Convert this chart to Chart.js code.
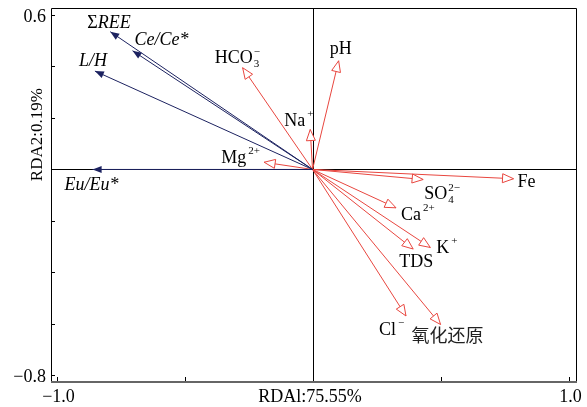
<!DOCTYPE html>
<html lang="zh">
<head>
<meta charset="UTF-8">
<meta name="viewport" content="width=device-width, initial-scale=1.0">
<title>RDA</title>
<script src="https://cdn.jsdelivr.net/npm/chart.js"></script>
<style>
    body, html {
        margin: 0;
        padding: 0;
        background: #fff;
    }
    #chartContainer {
        width: 587px;
        height: 407px;
    }
</style>
</head>
<body>
<div id="chartContainer">
    <canvas id="rdaChart"></canvas>
</div>
<script>
    // REE parameters (blue arrows)
    const speciesNames = ['ΣREE', 'Ce/Ce*', 'L/H', 'Eu/Eu*'];
    const speciesX = [-0.790, -0.703, -0.850, -0.859];
    const speciesY = [0.535, 0.461, 0.382, 0.000];

    // hydrochemical factors (red arrows)
    const envNames = ['HCO3-', 'pH', 'Na+', 'Mg2+', 'Fe', 'SO42-', 'Ca2+', 'K+', 'TDS', 'Cl-', '氧化还原'];
    const envX = [-0.273, 0.102, -0.009, -0.189, 0.785, 0.432, 0.326, 0.460, 0.393, 0.365, 0.500];
    const envY = [0.395, 0.422, 0.155, 0.028, -0.036, -0.039, -0.149, -0.303, -0.309, -0.569, -0.602];

    const xTicks = [-1.0, -0.5, 0, 0.5, 1.0];
    const xTickLabels = ['−1.0', '', '', '', '1.0'];
    const yTicks = [0.6, 0.4, 0.2, 0, -0.2, -0.4, -0.6, -0.8];
    const yTickLabels = ['0.6', '', '', '', '', '', '', '−0.8'];

    const xTitle = 'RDAl:75.55%';
    const yTitle = 'RDA2:0.19%';

    const NAVY = '#1c2260';
    const RED = '#e8463f';
    const SERIF = '"Liberation Serif", "Times New Roman", serif';

    // how each label is typeset: [text, kind]
    const labelParts = {
        'ΣREE': [['Σ', 'n'], ['REE', 'i']],
        'Ce/Ce*': [['Ce/Ce*', 'i']],
        'L/H': [['L/H', 'i']],
        'Eu/Eu*': [['Eu/Eu*', 'i']],
        'HCO3-': [['HCO', 'n'], ['3|−', 'stack']],
        'pH': [['pH', 'n']],
        'Na+': [['Na', 'n'], ['+', 'sup']],
        'Mg2+': [['Mg', 'n'], ['2+', 'sup']],
        'Fe': [['Fe', 'n']],
        'SO42-': [['SO', 'n'], ['4|2−', 'stack']],
        'Ca2+': [['Ca', 'n'], ['2+', 'sup']],
        'K+': [['K', 'n'], ['+', 'sup']],
        'TDS': [['TDS', 'n']],
        'Cl-': [['Cl', 'n'], ['−', 'sup']],
        '氧化还原': [['氧化还原', 'cjk']]
    };
    // label position relative to arrow tip (left edge, baseline), px
    const labelOffset = {
        'ΣREE': [-23, -4], 'Ce/Ce*': [2, -6], 'L/H': [-16, -5], 'Eu/Eu*': [-28, 21],
        'HCO3-': [-28, -5], 'pH': [-9, -7], 'Na+': [-26, -4], 'Mg2+': [-43, 1],
        'Fe': [4, 8], 'SO42-': [1, 19], 'Ca2+': [5, 12], 'K+': [6, 6],
        'TDS': [-14, 18], 'Cl-': [-27, 19], '氧化还原': [-29, 18]
    };

    function drawRich(ctx, parts, x, y) {
        let cx = x;
        ctx.textAlign = 'left';
        ctx.textBaseline = 'alphabetic';
        ctx.fillStyle = '#000';
        parts.forEach(([t, kind]) => {
            if (kind === 'stack') {
                const [sub, sup] = t.split('|');
                ctx.font = '11px ' + SERIF;
                ctx.fillText(sub, cx + 1, y + 4);
                ctx.fillText(sup, cx + 1, y - 8);
                cx += Math.max(ctx.measureText(sub).width, ctx.measureText(sup).width) + 1;
            } else if (kind === 'sup') {
                ctx.font = '11px ' + SERIF;
                ctx.fillText(t, cx + 2, y - 9);
                cx += ctx.measureText(t).width + 2;
            } else if (kind === 'cjk') {
                ctx.font = '18px "Noto Sans CJK SC", sans-serif';
                ctx.fillStyle = '#222';
                ctx.fillText(t, cx, y);
                cx += ctx.measureText(t).width;
            } else {
                ctx.font = (kind === 'i' ? 'italic ' : '') + '18px ' + SERIF;
                ctx.fillText(t, cx, y);
                cx += ctx.measureText(t).width;
            }
        });
    }

    function drawHead(ctx, from, to, filled, color) {
        const ang = Math.atan2(to.y - from.y, to.x - from.x);
        const len = filled ? 9 : 11;
        const half = filled ? 3.5 : 4.5;
        const bx = to.x - len * Math.cos(ang);
        const by = to.y - len * Math.sin(ang);
        const px = -Math.sin(ang) * half;
        const py = Math.cos(ang) * half;
        ctx.beginPath();
        ctx.moveTo(to.x, to.y);
        ctx.lineTo(bx + px, by + py);
        ctx.lineTo(bx - px, by - py);
        ctx.closePath();
        if (filled) {
            ctx.fillStyle = color;
            ctx.fill();
        } else {
            ctx.fillStyle = '#fff';
            ctx.fill();
            ctx.strokeStyle = color;
            ctx.lineWidth = 1;
            ctx.stroke();
        }
    }

    const rdaDecor = {
        id: 'rdaDecor',
        beforeDatasetsDraw(chart) {
            const { ctx, chartArea: a, scales: { x, y } } = chart;
            ctx.save();
            ctx.strokeStyle = '#000';
            ctx.lineWidth = 1;
            const x0 = Math.round(x.getPixelForValue(0)) + 0.5;
            const y0 = Math.round(y.getPixelForValue(0)) + 0.5;
            ctx.beginPath();
            ctx.moveTo(x0, a.top); ctx.lineTo(x0, a.bottom);
            ctx.moveTo(a.left, y0); ctx.lineTo(a.right, y0);
            ctx.stroke();

            // inward tick marks
            ctx.beginPath();
            xTicks.forEach(v => {
                if (v === 0) return;
                const px = Math.round(x.getPixelForValue(v)) + 0.5;
                ctx.moveTo(px, a.bottom); ctx.lineTo(px, a.bottom - 4);
            });
            yTicks.forEach(v => {
                if (v === 0) return;
                const py = Math.round(y.getPixelForValue(v)) + 0.5;
                ctx.moveTo(a.left, py); ctx.lineTo(a.left + 4, py);
            });
            ctx.stroke();

            // frame
            ctx.beginPath();
            ctx.moveTo(Math.round(a.left) + 0.5, Math.round(a.bottom));
            ctx.lineTo(Math.round(a.left) + 0.5, Math.round(a.top) + 0.5);
            ctx.lineTo(Math.round(a.right) + 0.5, Math.round(a.top) + 0.5);
            ctx.lineTo(Math.round(a.right) + 0.5, Math.round(a.bottom));
            ctx.stroke();
            ctx.strokeStyle = '#666';
            ctx.lineWidth = 2;
            ctx.beginPath();
            ctx.moveTo(a.left, Math.round(a.bottom) + 1);
            ctx.lineTo(a.right + 1, Math.round(a.bottom) + 1);
            ctx.stroke();

            // tick labels
            ctx.fillStyle = '#000';
            ctx.font = '18px ' + SERIF;
            ctx.textAlign = 'center';
            ctx.textBaseline = 'alphabetic';
            xTicks.forEach((v, i) => {
                if (xTickLabels[i]) ctx.fillText(xTickLabels[i], x.getPixelForValue(v) + 2, 402);
            });
            ctx.textAlign = 'right';
            ctx.textBaseline = 'middle';
            yTicks.forEach((v, i) => {
                if (yTickLabels[i]) ctx.fillText(yTickLabels[i], a.left - 5, y.getPixelForValue(v) + 2);
            });
            ctx.restore();
        },
        afterDatasetsDraw(chart) {
            const { ctx } = chart;
            ctx.save();
            chart.data.datasets.forEach((ds, i) => {
                const pts = chart.getDatasetMeta(i).data;
                const from = pts[0], to = pts[1];
                drawHead(ctx, from, to, ds.kind === 'species', ds.borderColor);
                const off = labelOffset[ds.label];
                drawRich(ctx, labelParts[ds.label], to.x + off[0], to.y + off[1]);
            });

            // axis titles
            const { x, y } = chart.scales;
            ctx.fillStyle = '#000';
            ctx.font = '18px ' + SERIF;
            ctx.textAlign = 'center';
            ctx.textBaseline = 'alphabetic';
            ctx.fillText(xTitle, x.getPixelForValue(-0.01), 402);
            ctx.font = '17px ' + SERIF;
            ctx.translate(42, y.getPixelForValue(0.135));
            ctx.rotate(-Math.PI / 2);
            ctx.fillText(yTitle, 0, 0);
            ctx.restore();
        }
    };

    const datasets = [];
    speciesNames.forEach((name, i) => {
        datasets.push({
            label: name,
            kind: 'species',
            data: [{ x: 0, y: 0 }, { x: speciesX[i], y: speciesY[i] }],
            borderColor: NAVY
        });
    });
    envNames.forEach((name, i) => {
        datasets.push({
            label: name,
            kind: 'env',
            data: [{ x: 0, y: 0 }, { x: envX[i], y: envY[i] }],
            borderColor: RED
        });
    });

    new Chart(document.getElementById('rdaChart'), {
        type: 'scatter',
        data: { datasets: datasets },
        options: {
            responsive: true,
            maintainAspectRatio: false,
            animation: false,
            showLine: true,
            layout: { padding: { left: 51, top: 8, right: 11, bottom: 26 } },
            elements: {
                line: { borderWidth: 1, tension: 0 },
                point: { radius: 0, hoverRadius: 0 }
            },
            plugins: {
                legend: { display: false },
                tooltip: { enabled: false }
            },
            scales: {
                x: {
                    type: 'linear',
                    display: false,
                    min: -1.0215,
                    max: 1.029
                },
                y: {
                    type: 'linear',
                    display: false,
                    min: -0.8215,
                    max: 0.627
                }
            }
        },
        plugins: [rdaDecor]
    });
</script>
</body>
</html>
